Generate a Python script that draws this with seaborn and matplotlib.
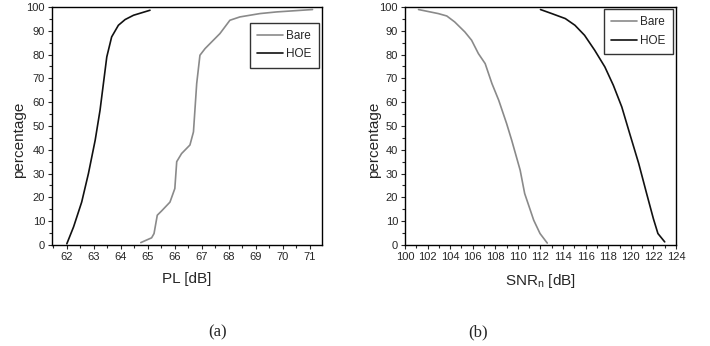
import numpy as np
import pandas as pd
import seaborn as sns
import matplotlib.pyplot as plt
from matplotlib.ticker import MultipleLocator

# (a) path loss CDF
pl_bare_x = [64.74, 65.14, 65.23, 65.35, 65.51, 65.82, 66.0, 66.07, 66.25, 66.56, 66.69,
             66.81, 66.93, 67.12, 67.67, 68.04, 68.41, 69.15, 69.77, 71.1]
pl_bare_y = [1, 3, 4.8, 12.5, 14.3, 18, 23.7, 35, 38.4, 42, 47.5,
             67.8, 79.7, 82.5, 88.8, 94.4, 95.8, 97.2, 97.9, 98.9]
pl_hoe_x = [62.0, 62.25, 62.55, 62.8, 63.05, 63.23, 63.48, 63.66, 63.91, 64.16, 64.47, 65.08]
pl_hoe_y = [0.5, 7.6, 18, 30, 44, 56.6, 79, 87.4, 92.3, 94.7, 96.5, 98.6]

# (b) SNR_n CCDF
snr_bare_x = [101.2, 102.95, 103.7, 104.4, 105.3, 105.9, 106.5, 107.1, 107.7, 108.3,
              109.0, 109.45, 110.2, 110.6, 111.4, 111.96, 112.6]
snr_bare_y = [98.9, 97.2, 96.2, 93.7, 89.5, 86, 80.4, 76.2, 67.8, 60.8,
              51, 44, 31.4, 21.6, 10.4, 4.8, 0.8]
snr_hoe_x = [112.0, 113.0, 114.2, 115.05, 115.9, 116.8, 117.7, 118.45, 119.2, 119.9,
             120.7, 121.4, 122.0, 122.4, 123.0]
snr_hoe_y = [98.9, 97.2, 95.1, 92.3, 88.1, 81.8, 74.8, 67.1, 58, 46.8,
             34.2, 21.6, 11, 4.8, 1.3]

sns.set_theme(style="ticks")
plt.rcParams['font.family'] = ['Liberation Sans', 'DejaVu Sans']
plt.rcParams['mathtext.fontset'] = 'custom'
plt.rcParams['mathtext.rm'] = 'Liberation Sans'

palette = {"Bare": "#8a8a8a", "HOE": "#111111"}


def make_df(bx, by, hx, hy):
    return pd.concat([
        pd.DataFrame({"x": bx, "y": by, "series": "Bare"}),
        pd.DataFrame({"x": hx, "y": hy, "series": "HOE"}),
    ], ignore_index=True)


fig = plt.figure(figsize=(7.1, 3.46), dpi=100)
ax1 = fig.add_axes([0.0732, 0.292, 0.3803, 0.688])
ax2 = fig.add_axes([0.5704, 0.292, 0.3817, 0.688])

panels = [
    (ax1, make_df(pl_bare_x, pl_bare_y, pl_hoe_x, pl_hoe_y), (61.45, 71.45), 1, 0.5,
     "PL [dB]", (0.988, 0.933), -0.096),
    (ax2, make_df(snr_bare_x, snr_bare_y, snr_hoe_x, snr_hoe_y), (100, 124), 2, 1,
     r"SNR$_\mathregular{n}$ [dB]", (0.988, 0.99), -0.089),
]

for ax, df, xlim, major, minor, xlabel, legpos, ylab_x in panels:
    sns.lineplot(data=df, x="x", y="y", hue="series", palette=palette,
                 estimator=None, linewidth=1.2, ax=ax)
    ax.set_xlim(*xlim)
    ax.set_ylim(0, 100)
    ax.xaxis.set_major_locator(MultipleLocator(major))
    ax.xaxis.set_minor_locator(MultipleLocator(minor))
    ax.yaxis.set_major_locator(MultipleLocator(10))
    ax.yaxis.set_minor_locator(MultipleLocator(5))
    ax.tick_params(which='major', length=3, width=0.8, labelsize=8, pad=2)
    ax.tick_params(which='minor', length=2, width=0.8)
    for s in ax.spines.values():
        s.set_linewidth(1.0)
        s.set_color('black')
    ax.set_xlabel(xlabel, fontsize=11, labelpad=7)
    ax.set_ylabel("percentage", fontsize=11)
    ax.yaxis.set_label_coords(ylab_x, 0.44)
    leg = ax.legend(title=None, loc='upper right', bbox_to_anchor=legpos, fontsize=8.5,
                    frameon=True, fancybox=False, handlelength=2.2, borderpad=0.6,
                    labelspacing=0.55, handletextpad=0.3, borderaxespad=0)
    leg.get_frame().set_edgecolor('black')
    leg.get_frame().set_linewidth(1.0)

fig.text(0.306, 0.04, "(a)", fontsize=12, family='Liberation Serif', ha='center', va='center')
fig.text(0.674, 0.04, "(b)", fontsize=12, family='Liberation Serif', ha='center', va='center')

fig.savefig("out.png", dpi=100)
